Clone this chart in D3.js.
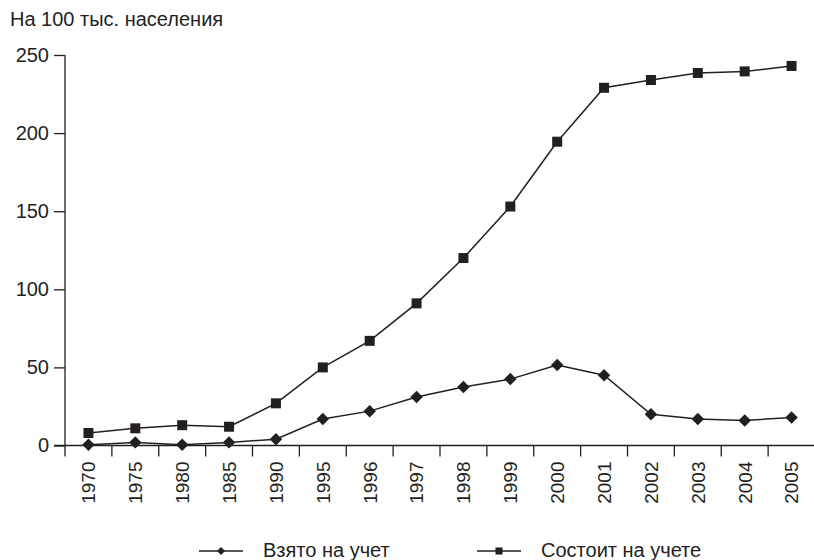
<!DOCTYPE html>
<html>
<head>
<meta charset="utf-8">
<script src="https://cdn.jsdelivr.net/npm/d3@7"></script>
<style>
  body { margin: 0; background: #fff; }
  svg text { font-family: "Liberation Sans", Arial, sans-serif; fill: #231f20; }
</style>
</head>
<body>
<div id="chart"></div>
<script>
// --- Данные ---
const years = ["1970", "1975", "1980", "1985", "1990", "1995", "1996", "1997",
               "1998", "1999", "2000", "2001", "2002", "2003", "2004", "2005"];
const vzyato = [0.5, 2, 0.5, 2, 4, 17, 22, 31, 37.5, 42.5, 51.5, 45, 20, 17, 16, 18];
const sostoit = [8, 11, 13, 12, 27, 50, 67, 91, 120, 153, 194.5, 229, 234, 238.5, 239.5, 243];
const yTicks = [0, 50, 100, 150, 200, 250];

const W = 814, H = 560;
const ink = "#231f20";
const fontSize = 20;

const svg = d3.select("#chart")
  .append("svg")
    .attr("width", W)
    .attr("height", H);

// --- Шкалы ---
const x = d3.scaleBand()
  .domain(years)
  .range([65, 815])
  .padding(0);

const y = d3.scaleLinear()
  .domain([0, 250])
  .range([445.5, 55]);

// --- Ось Y ---
const yAxis = svg.append("g")
  .attr("transform", "translate(65,0)")
  .call(d3.axisLeft(y).tickValues(yTicks).tickSize(11).tickPadding(5).tickSizeOuter(0));
yAxis.select(".domain").remove();
yAxis.selectAll("line").attr("stroke", ink).attr("stroke-width", 1.3);
yAxis.selectAll("text").style("font-size", fontSize + "px").attr("fill", ink);

// вертикальная линия оси, продолжается вниз как засечка
svg.append("line")
  .attr("x1", 65).attr("x2", 65)
  .attr("y1", y(250)).attr("y2", y(0) + 11)
  .attr("stroke", ink).attr("stroke-width", 1.3);

// --- Ось X ---
svg.append("line")
  .attr("x1", 54).attr("x2", 814)
  .attr("y1", y(0)).attr("y2", y(0))
  .attr("stroke", ink).attr("stroke-width", 1.3);

svg.selectAll(".xtick")
  .data(years.slice(1))
  .enter()
  .append("line")
    .attr("class", "xtick")
    .attr("x1", d => x(d)).attr("x2", d => x(d))
    .attr("y1", y(0)).attr("y2", y(0) + 11)
    .attr("stroke", ink).attr("stroke-width", 1.3);

svg.selectAll(".xlabel")
  .data(years)
  .enter()
  .append("text")
    .attr("class", "xlabel")
    .attr("transform", d => `translate(${x(d) + x.bandwidth() / 2},${y(0) + 16}) rotate(-90)`)
    .attr("text-anchor", "end")
    .attr("dy", "0.36em")
    .style("font-size", "19px")
    .text(d => d);

// --- Линии ---
const line = d3.line()
  .x((d, i) => x(years[i]) + x.bandwidth() / 2)
  .y(d => y(d));

svg.append("path")
  .datum(sostoit)
  .attr("fill", "none")
  .attr("stroke", ink)
  .attr("stroke-width", 1.5)
  .attr("d", line);

svg.append("path")
  .datum(vzyato)
  .attr("fill", "none")
  .attr("stroke", ink)
  .attr("stroke-width", 1.5)
  .attr("d", line);

// --- Маркеры ---
const sq = d3.symbol().type(d3.symbolSquare).size(100);
const dia = d3.symbol().type(d3.symbolSquare).size(78);

svg.selectAll(".sq")
  .data(sostoit)
  .enter()
  .append("path")
    .attr("class", "sq")
    .attr("d", sq)
    .attr("transform", (d, i) => `translate(${x(years[i]) + x.bandwidth() / 2},${y(d)})`)
    .attr("fill", ink);

svg.selectAll(".dia")
  .data(vzyato)
  .enter()
  .append("path")
    .attr("class", "dia")
    .attr("d", dia)
    .attr("transform", (d, i) => `translate(${x(years[i]) + x.bandwidth() / 2},${y(d)}) rotate(45)`)
    .attr("fill", ink);

// --- Заголовок оси ---
svg.append("text")
  .attr("x", 10)
  .attr("y", 26)
  .style("font-size", fontSize + "px")
  .text("На 100 тыс. населения");

// --- Легенда ---
const legend = [
  { name: "Взято на учет", sym: d3.symbol().type(d3.symbolSquare).size(34), rot: 45, x0: 199 },
  { name: "Состоит на учете", sym: d3.symbol().type(d3.symbolSquare).size(50), rot: 0, x0: 477 }
];
const ly = 551;
legend.forEach(l => {
  const g = svg.append("g");
  g.append("line")
    .attr("x1", l.x0).attr("x2", l.x0 + 44)
    .attr("y1", ly).attr("y2", ly)
    .attr("stroke", ink).attr("stroke-width", 1.5);
  g.append("path")
    .attr("d", l.sym)
    .attr("transform", `translate(${l.x0 + 22},${ly}) rotate(${l.rot})`)
    .attr("fill", ink);
  g.append("text")
    .attr("x", l.x0 + 64)
    .attr("y", ly)
    .attr("dy", "0.3em")
    .style("font-size", fontSize + "px")
    .text(l.name);
});
</script>
</body>
</html>
